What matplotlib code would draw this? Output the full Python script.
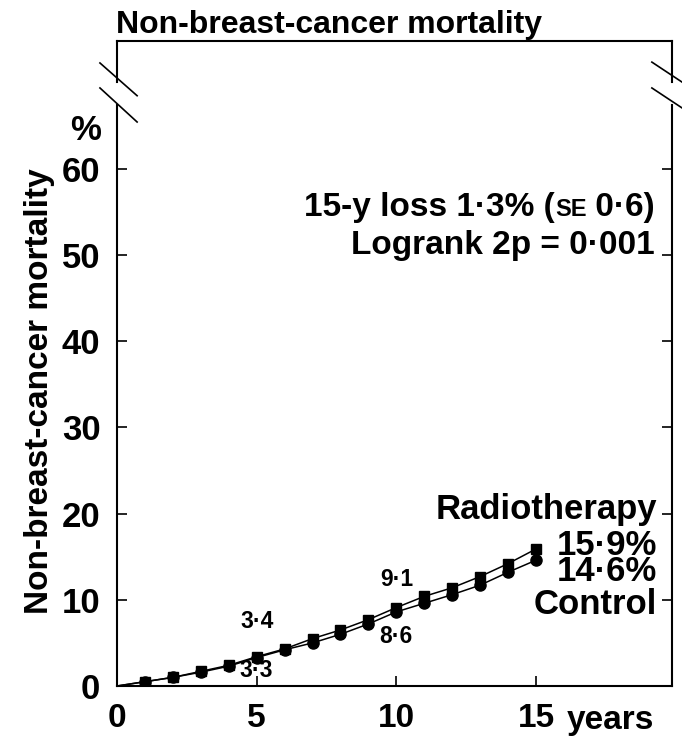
import matplotlib
matplotlib.use("Agg")
import matplotlib.pyplot as plt

plt.rcParams["font.family"] = ["Liberation Sans", "DejaVu Sans"]
plt.rcParams["font.weight"] = "bold"

# Cumulative non-breast-cancer mortality (%) by year of follow-up
years = [0, 1, 2, 3, 4, 5, 6, 7, 8, 9, 10, 11, 12, 13, 14, 15]
radiotherapy = [0, 0.5, 1.0, 1.7, 2.4, 3.4, 4.3, 5.5, 6.5, 7.7, 9.1, 10.4, 11.4, 12.7, 14.2, 15.9]
control = [0, 0.5, 1.0, 1.6, 2.3, 3.3, 4.2, 5.0, 6.0, 7.2, 8.6, 9.6, 10.6, 11.7, 13.2, 14.6]
yticks = [0, 10, 20, 30, 40, 50, 60]
xticks = [0, 5, 10, 15]

W, H = 682, 737
fig = plt.figure(figsize=(W / 100, H / 100), dpi=100)
ax = fig.add_axes([117 / W, 1 - 686 / H, (672 - 117) / W, (686 - 41) / H])
ax.set_xlim(0, 19.87)
ax.set_ylim(0, 74.85)

black = "black"
ax.plot(years, radiotherapy, color=black, lw=1.1, marker="s", ms=7.5,
        markevery=list(range(1, len(years))), zorder=3)
ax.plot(years, control, color=black, lw=1.1, marker="o", ms=8,
        markevery=list(range(1, len(years))), zorder=3)

# Spines: left/right drawn in two pieces around the axis break
for s in ("left", "right"):
    ax.spines[s].set_visible(False)
for s in ("top", "bottom"):
    ax.spines[s].set_linewidth(1.5)
gap_lo, gap_hi = 67.4, 70.1
xmax = ax.get_xlim()[1]
ytop = ax.get_ylim()[1]
for xv in (0, xmax):
    ax.plot([xv, xv], [0, gap_lo], color=black, lw=1.5, clip_on=False, zorder=4)
    ax.plot([xv, xv], [gap_hi, ytop], color=black, lw=1.5, clip_on=False, zorder=4)

# Break marks
for y0, y1 in ((72.3, 68.5), (69.4, 65.45)):
    ax.plot([-0.61, 0.72], [y0, y1], color=black, lw=1.2, clip_on=False, zorder=4)
for y0, y1 in ((72.4, 69.5), (69.4, 66.5)):
    ax.plot([19.15, 20.5], [y0, y1], color=black, lw=1.2, clip_on=False, zorder=4)

ax.set_yticks(yticks)
ax.set_xticks(xticks)
ax.set_xticklabels([str(v) for v in xticks], fontsize=24, fontweight="bold")
ax.set_yticklabels([str(v) for v in yticks], fontsize=25, fontweight="bold")
ax.tick_params(axis="y", direction="in", length=7, width=1.2, left=True, right=True, pad=12)
ax.tick_params(axis="x", direction="in", length=7, width=1.2, bottom=True, pad=12)
ax.xaxis.get_major_ticks()[0].tick1line.set_visible(False)

fig.text(567 / W, 1 - 729 / H, "years", fontsize=24,
         fontweight="bold", ha="left", va="baseline")
fig.text(101 / W, 1 - 131 / H, "%", fontsize=25, fontweight="bold", ha="right", va="center")

fig.text(116 / W, 1 - 33 / H, "Non-breast-cancer mortality", fontsize=23,
         fontweight="bold", ha="left", va="baseline")
fig.text(40 / W, 1 - 391 / H, "Non-breast-cancer mortality", fontsize=24,
         fontweight="bold", rotation=90, ha="center", va="center")

# Summary statistics, right-aligned, with "SE" in small caps
fig.canvas.draw()
renderer = fig.canvas.get_renderer()
xr = 655 / W
yb = 1 - 216 / H
parts = [(" 0·6)", 24), ("SE", 17), ("15-y loss 1·3% (", 24)]
for txt, fs in parts:
    t = fig.text(xr, yb, txt, fontsize=fs, fontweight="bold", ha="right", va="baseline")
    bb = t.get_window_extent(renderer)
    xr -= bb.width / W
fig.text(655 / W, 1 - 254 / H, "Logrank 2p = 0·001", fontsize=24,
         fontweight="bold", ha="right", va="baseline")

# Group labels with 15-year values
fig.text(657 / W, 1 - 519 / H, "Radiotherapy", fontsize=25, fontweight="bold",
         ha="right", va="baseline")
fig.text(657 / W, 1 - 581 / H, "15·9%\n14·6%", fontsize=25, fontweight="bold",
         ha="right", va="baseline", linespacing=0.72)
fig.text(657 / W, 1 - 614 / H, "Control", fontsize=25, fontweight="bold",
         ha="right", va="baseline")

# Values at 5 and 10 years
offsets = {5: (25.5, -9.5), 10: (20.5, -17.5)}
for i, (up, down) in offsets.items():
    ax.annotate(f"{radiotherapy[i]:.1f}".replace(".", "·"), (years[i], radiotherapy[i]),
                xytext=(0, up), textcoords="offset points", fontsize=16.5,
                fontweight="bold", ha="center", va="center")
    ax.annotate(f"{control[i]:.1f}".replace(".", "·"), (years[i], control[i]),
                xytext=(0, down), textcoords="offset points", fontsize=16.5,
                fontweight="bold", ha="center", va="center")

fig.savefig("out.png", dpi=100)
